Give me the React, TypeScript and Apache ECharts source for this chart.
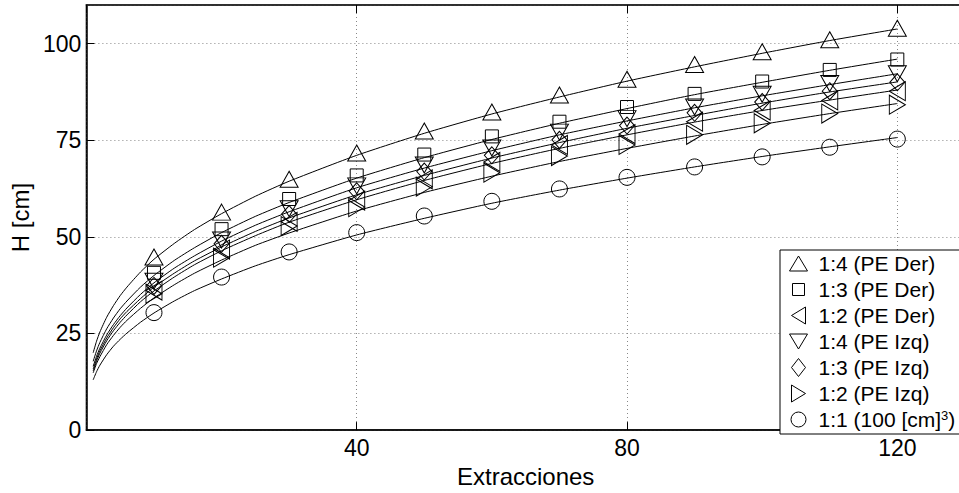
import React, { useEffect, useRef } from 'react';
import * as echarts from 'echarts';

// Extraction counts where measurements were taken
const extracciones = [10, 20, 30, 40, 50, 60, 70, 80, 90, 100, 110, 120];

// Measured heights H [cm]
const h14Der = [44.8, 56.4, 64.9, 71.7, 77.4, 82.3, 86.7, 90.8, 94.6, 97.9, 101.0, 104.0];
const h13Der = [40.7, 52.0, 59.8, 65.9, 71.3, 76.0, 79.8, 83.6, 87.0, 90.2, 93.2, 95.9];
const h12Der = [36.1, 46.7, 53.9, 59.4, 64.9, 69.4, 73.8, 76.6, 79.8, 82.7, 85.3, 87.7];
const h14Izq = [38.5, 49.2, 57.3, 63.2, 68.6, 73.0, 77.1, 80.6, 83.6, 86.9, 89.7, 92.2];
const h13Izq = [37.3, 48.2, 55.9, 61.8, 66.9, 71.1, 75.1, 78.8, 82.1, 84.9, 87.7, 90.0];
const h12Izq = [35.3, 44.6, 52.8, 57.7, 63.0, 66.6, 70.9, 73.8, 76.4, 79.4, 81.9, 84.2];
const h11 = [30.4, 39.6, 46.1, 51.1, 55.4, 59.2, 62.4, 65.4, 68.1, 70.7, 73.2, 75.3];

// Fitted curves
const fitX = [1, 1.5, 2, 3, 4, 5, 6, 8, 10, 13, 16, 20, 25, 30, 40, 50, 60, 70, 80, 90, 100, 110, 120];
const fit14Der = [20.0, 23.0, 25.4, 29.2, 32.2, 34.8, 37.0, 40.9, 44.2, 48.3, 51.9, 56.0, 60.5, 64.4, 71.1, 76.8, 81.8, 86.2, 90.3, 94.0, 97.5, 100.8, 103.8];
const fit13Der = [17.8, 20.5, 22.7, 26.2, 29.0, 31.4, 33.4, 37.0, 40.0, 43.9, 47.2, 51.1, 55.3, 58.9, 65.2, 70.5, 75.2, 79.4, 83.2, 86.8, 90.0, 93.1, 96.0];
const fit12Der = [15.3, 17.8, 19.9, 23.1, 25.7, 27.9, 29.8, 33.2, 36.0, 39.6, 42.8, 46.4, 50.3, 53.8, 59.6, 64.6, 69.0, 72.9, 76.4, 79.7, 82.7, 85.4, 88.0];
const fit14Izq = [16.5, 19.1, 21.2, 24.6, 27.3, 29.6, 31.6, 35.1, 38.1, 41.9, 45.1, 48.9, 53.0, 56.5, 62.7, 67.8, 72.3, 76.4, 80.0, 83.4, 86.5, 89.4, 92.2];
const fit13Izq = [15.8, 18.4, 20.5, 23.8, 26.5, 28.8, 30.7, 34.0, 37.0, 40.6, 43.8, 47.4, 51.4, 54.9, 60.9, 65.9, 70.4, 74.4, 78.1, 81.4, 84.6, 87.5, 90.1];
const fit12Izq = [14.8, 17.2, 19.0, 22.1, 24.5, 26.6, 28.4, 31.5, 34.2, 37.6, 40.6, 44.0, 47.8, 51.0, 56.7, 61.5, 65.7, 69.5, 72.9, 76.1, 79.1, 81.9, 84.5];
const fit11 = [13.0, 15.1, 16.8, 19.5, 21.7, 23.5, 25.1, 27.9, 30.3, 33.4, 36.1, 39.1, 42.5, 45.4, 50.5, 54.8, 58.7, 62.1, 65.2, 68.1, 70.8, 73.3, 75.7];

const seriesNames = [
  '1:4 (PE Der)',
  '1:3 (PE Der)',
  '1:2 (PE Der)',
  '1:4 (PE Izq)',
  '1:3 (PE Izq)',
  '1:2 (PE Izq)',
  '1:1 (100 [cm]3)',
];

const xTicks = [40, 80, 120];
const yTicks = [0, 25, 50, 75, 100];

const FONT = '"Liberation Sans", Arial, Helvetica, sans-serif';

// legend icon outlines in a 20x20 frame (corner moves keep the frame)
const FR = 'path://M0,0 M20,20 ';
const legendIcons = [
  FR + 'M1,17.5 L10,2.5 L19,17.5 Z',
  FR + 'M4,4 L16,4 L16,16 L4,16 Z',
  FR + 'M17,1.5 L17,18.5 L3,10 Z',
  FR + 'M1,2.5 L19,2.5 L10,17.5 Z',
  FR + 'M10,1 L17,10 L10,19 L3,10 Z',
  FR + 'M3,1.5 L3,18.5 L17,10 Z',
  FR + 'M17.5,10 A7.5,7.5 0 1 1 2.5,10 A7.5,7.5 0 1 1 17.5,10 Z',
];

export default function App() {
  const ref = useRef<HTMLDivElement>(null);

  useEffect(() => {
    if (!ref.current) return;
    const chart = echarts.init(ref.current, undefined, { renderer: 'svg' });

    const marks = [h14Der, h13Der, h12Der, h14Izq, h13Izq, h12Izq, h11];
    const fits = [fit14Der, fit13Der, fit12Der, fit14Izq, fit13Izq, fit12Izq, fit11];
    const styles = [
      { symbol: 'triangle', size: [18, 16], rotate: 0 },
      { symbol: 'rect', size: 13, rotate: 0 },
      { symbol: 'triangle', size: [19, 16], rotate: 90 },
      { symbol: 'triangle', size: [18, 16], rotate: 180 },
      { symbol: 'diamond', size: [15, 17], rotate: 0 },
      { symbol: 'triangle', size: [19, 16], rotate: -90 },
      { symbol: 'circle', size: 16, rotate: 0 },
    ];
    const hollow = { color: 'rgba(0,0,0,0)', borderColor: '#000', borderWidth: 1, opacity: 1 };

    const series: any[] = [];
    fits.forEach((f, i) => {
      series.push({
        type: 'line',
        name: 'fit' + i,
        data: fitX.map((x, j) => [x, f[j]]),
        showSymbol: false,
        smooth: 0.2,
        silent: true,
        lineStyle: { color: '#000', width: 1 },
        z: 2,
      });
    });
    marks.forEach((m, i) => {
      series.push({
        type: 'scatter',
        name: seriesNames[i],
        data: extracciones.map((x, j) => [x, m[j]]),
        symbol: styles[i].symbol,
        symbolSize: styles[i].size,
        symbolRotate: styles[i].rotate,
        itemStyle: hollow,
        z: 3,
      });
    });

    const axisText = { fontSize: 23, color: '#000', fontFamily: FONT };

    chart.setOption({
      animation: false,
      backgroundColor: '#fff',
      grid: {
        left: 86.4,
        right: 1.1,
        top: 5,
        bottom: 56.3,
        show: true,
        borderColor: '#222',
        borderWidth: 1.5,
        backgroundColor: '#fff',
      },
      xAxis: [
        {
          type: 'value',
          min: 0,
          max: 130,
          interval: 40,
          axisLine: { show: true, lineStyle: { color: '#000', width: 1.5 } },
          axisTick: { show: true, inside: true, length: 8, lineStyle: { color: '#000' } },
          axisLabel: {
            ...axisText,
            margin: 6,
            showMinLabel: false,
            showMaxLabel: false,
            formatter: (v: number) => (xTicks.includes(v) ? String(v) : ''),
          },
          splitLine: { show: true, lineStyle: { type: [1, 3], color: '#888', width: 1 } },
          name: 'Extracciones',
          nameLocation: 'middle',
          nameGap: 28,
          nameTextStyle: { ...axisText, fontSize: 24 },
        },
        {
          type: 'value',
          position: 'top',
          min: 0,
          max: 130,
          interval: 40,
          axisLine: { show: true, lineStyle: { color: '#222', width: 1.5 } },
          axisTick: { show: true, inside: true, length: 8, lineStyle: { color: '#000' } },
          axisLabel: { show: false },
          splitLine: { show: false },
        },
      ],
      yAxis: {
        type: 'value',
        min: 0,
        max: 110,
        interval: 25,
        axisLine: { show: true, lineStyle: { color: '#000', width: 1.5 } },
        axisTick: { show: true, inside: true, length: 8, lineStyle: { color: '#000' } },
        axisLabel: {
          ...axisText,
          margin: 5,
          showMaxLabel: false,
          formatter: (v: number) => (yTicks.includes(v) ? String(v) : ''),
        },
        splitLine: { show: true, lineStyle: { type: [1, 3], color: '#888', width: 1 } },
        name: 'H [cm]',
        nameLocation: 'middle',
        nameGap: 50,
        nameTextStyle: { ...axisText, fontSize: 24 },
      },
      legend: {
        data: seriesNames.map((n, i) => ({ name: n, icon: legendIcons[i], itemStyle: hollow })),
        orient: 'vertical',
        left: 780,
        top: 250,
        padding: [3, 6, 4, 8],
        itemWidth: 30,
        itemHeight: 20,
        itemGap: 5,
        symbolKeepAspect: true,
        borderColor: '#000',
        borderWidth: 1,
        backgroundColor: '#fff',
        selectedMode: false,
        formatter: (name: string) =>
          name === seriesNames[6] ? '1:1 (100 [cm]{sup|3})' : name,
        textStyle: {
          fontSize: 21,
          lineHeight: 21,
          color: '#000',
          fontFamily: FONT,
          rich: {
            sup: { fontSize: 13, lineHeight: 21, color: '#000', fontFamily: FONT, verticalAlign: 'top', padding: [0, 0, 6, 0] },
          },
        },
      },
      series,
    });

    return () => chart.dispose();
  }, []);

  return (
    <div style={{ position: 'fixed', left: 0, top: 0, width: 959, height: 493, overflow: 'hidden', background: '#fff' }}>
      <div ref={ref} style={{ width: 966, height: 493 }} />
    </div>
  );
}
